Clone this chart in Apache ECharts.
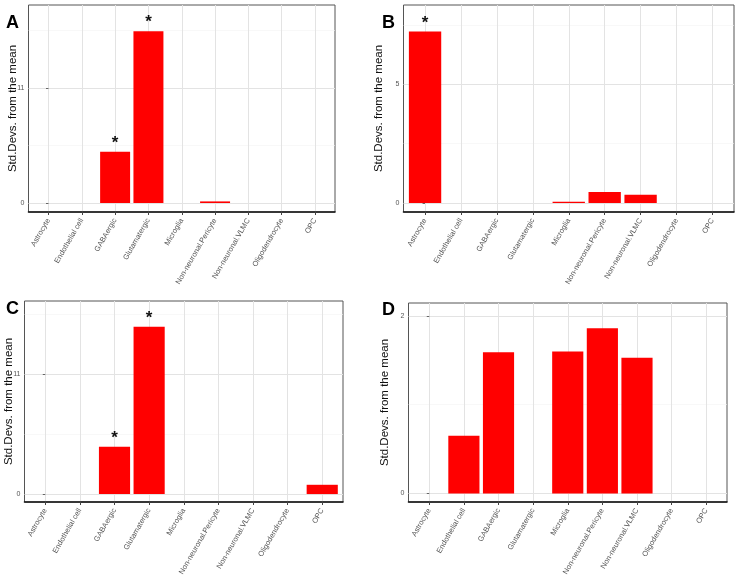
<!DOCTYPE html>
<html><head><meta charset="utf-8">
<script src="https://cdn.jsdelivr.net/npm/echarts@6/dist/echarts.min.js"></script>
<style>html,body{margin:0;padding:0;background:#fff}#c{width:740px;height:585px}</style>
</head><body><div id="c"></div>
<script>
// ---- data ----
const categories = ['Astrocyte','Endothelial cell','GABAergic','Glutamatergic','Microglia','Non-neuronal.Pericyte','Non-neuronal.VLMC','Oligodendrocyte','OPC'];
const valuesA = [0, 0, 4.9, 16.4, 0, 0.15, 0, 0, 0];
const valuesB = [7.22, 0, 0, 0, 0.05, 0.46, 0.35, 0, 0];
const valuesC = [0, 0, 4.34, 15.36, 0, 0, 0, 0, 0.85];
const valuesD = [0, 0.65, 1.59, 0, 1.6, 1.86, 1.53, 0, 0];
const sigA = ['', '', '*', '*', '', '', '', '', ''];
const sigB = ['*', '', '', '', '', '', '', '', ''];
const sigC = ['', '', '*', '*', '', '', '', '', ''];
const sigD = ['', '', '', '', '', '', '', '', ''];
const ticksA = [0, 11], ticksB = [0, 5], ticksC = [0, 11], ticksD = [0, 2];
const minorA = [5.5, 16.5], minorB = [2.5, 7.5], minorC = [5.5, 16.5], minorD = [1];
const panelLetters = ['A', 'B', 'C', 'D'];
const yTitle = 'Std.Devs. from the mean';

// ---- layout (styles / positions) ----
const panels = [
  {values: valuesA, sig: sigA, ticks: ticksA, minor: minorA, yMin: -0.86, yMax: 18.9, nameGap: 9.5,
   grid: {left: 28.5, top: 5, width: 306.5, height: 207}, letter: [6, 14]},
  {values: valuesB, sig: sigB, ticks: ticksB, minor: minorB, yMin: -0.38, yMax: 8.34, nameGap: 19,
   grid: {left: 403.5, top: 5, width: 330.5, height: 207}, letter: [382, 14]},
  {values: valuesC, sig: sigC, ticks: ticksC, minor: minorC, yMin: -0.73, yMax: 17.72, nameGap: 10,
   grid: {left: 24.5, top: 301, width: 318.5, height: 201}, letter: [6, 300]},
  {values: valuesD, sig: sigD, ticks: ticksD, minor: minorD, yMin: -0.097, yMax: 2.146, nameGap: 17.5,
   grid: {left: 408.5, top: 303, width: 318.5, height: 199}, letter: [382, 301]}
];
const FONT = 'Liberation Sans, Arial, sans-serif';
const catIdx = categories.map((c, i) => i);

const grid = [], xAxis = [], yAxis = [], series = [], graphic = [];
panels.forEach((p, k) => {
  grid.push(Object.assign({show: true, borderColor: '#555', borderWidth: 1, backgroundColor: '#fff'}, p.grid));
  xAxis.push({
    type: 'value', gridIndex: k, min: -0.6, max: 8.6,
    axisLine: {show: true, onZero: false, lineStyle: {color: '#111', width: 1.6}},
    axisTick: {show: true, customValues: catIdx, length: 3, lineStyle: {color: '#444'}},
    axisLabel: {customValues: catIdx, rotate: 60, margin: 7, fontSize: 7.5, color: '#555', fontFamily: FONT,
      formatter: v => categories[Math.round(v)]},
    splitLine: {show: true, lineStyle: {color: '#e3e3e3', width: 1}}
  });
  yAxis.push({
    type: 'value', gridIndex: k, min: p.yMin, max: p.yMax,
    name: yTitle, nameLocation: 'middle', nameGap: p.nameGap, nameMoveOverlap: false,
    nameTextStyle: {fontSize: 11.5, color: '#111', fontFamily: FONT},
    axisLine: {show: false},
    axisTick: {show: true, customValues: p.ticks, length: 2.5, lineStyle: {color: '#666'}},
    axisLabel: {customValues: p.ticks, margin: 4, fontSize: 7, color: '#555', fontFamily: FONT},
    splitLine: {show: true, lineStyle: {color: '#e3e3e3', width: 1}}
  });
  yAxis.push({
    type: 'value', gridIndex: k, min: p.yMin, max: p.yMax, position: 'left',
    axisLine: {show: false}, axisLabel: {show: false},
    axisTick: {show: false, customValues: p.minor},
    splitLine: {show: true, lineStyle: {color: '#f3f3f3', width: 0.6}}
  });
  series.push({
    type: 'bar', xAxisIndex: k, yAxisIndex: 2 * k, barWidth: '90%',
    data: categories.map((c, j) => [j, p.values[j]]),
    itemStyle: {color: '#ff0000'},
    label: {show: true, position: 'top', distance: 0, fontSize: 17, fontWeight: 'bold', color: '#111', fontFamily: FONT,
      formatter: q => p.sig[q.dataIndex]},
    z: 3
  });
  graphic.push({type: 'text', left: p.letter[0], top: p.letter[1],
    style: {text: panelLetters[k], font: 'bold 18px ' + FONT, fill: '#000'}});
});

const chart = echarts.init(document.getElementById('c'), null, {renderer: 'canvas'});
chart.setOption({animation: false, backgroundColor: '#fff', grid, xAxis, yAxis, series, graphic});
</script></body></html>
